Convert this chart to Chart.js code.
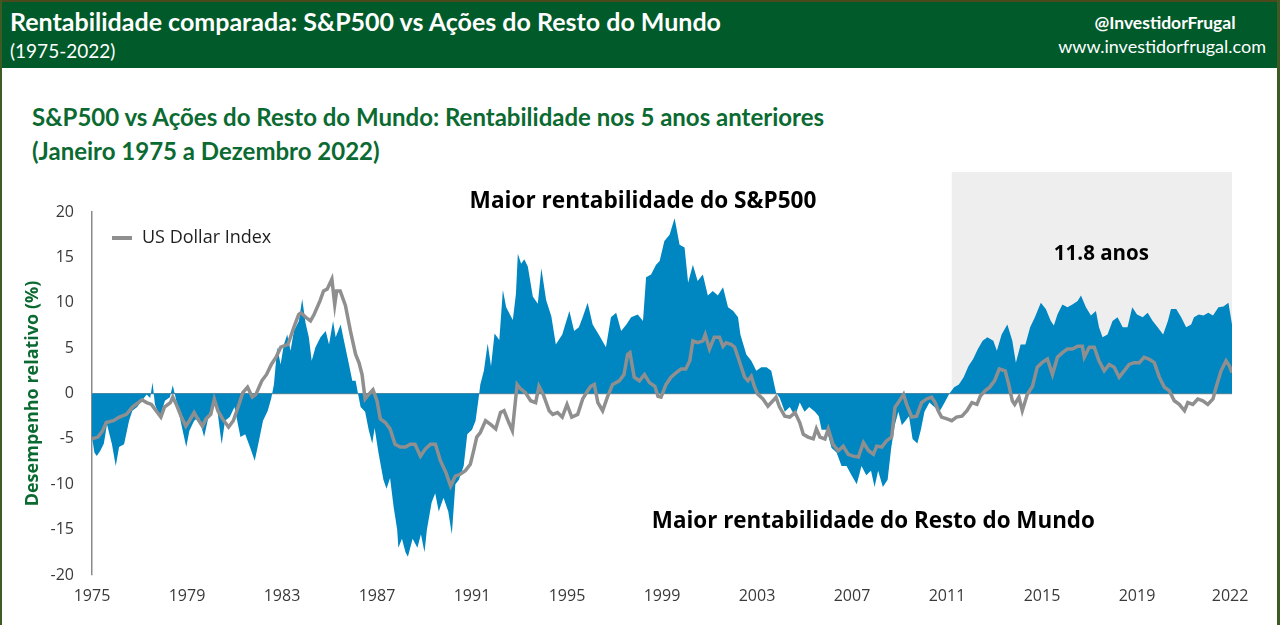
<!DOCTYPE html>
<html lang="pt">
<head>
<meta charset="utf-8">
<title>Rentabilidade comparada: S&P500 vs Ações do Resto do Mundo</title>
<script src="https://cdn.jsdelivr.net/npm/chart.js@4.4.1/dist/chart.umd.min.js"></script>
<style>
  html, body { margin: 0; padding: 0; background: #ffffff; }
  #page { position: relative; width: 1280px; height: 625px; overflow: hidden; background: #fff; }
  #hdr { position: absolute; left: 0; top: 0; width: 1280px; height: 68px; background: #005a2a; border-top: 2px solid #4b4a1c; box-sizing: border-box; }
  .w { position: absolute; color: #ffffff; white-space: nowrap; font-family: Lato, "Open Sans", sans-serif; }
  #t1 { left: 10px; top: 4px; font-size: 25px; font-weight: bold; }
  #t2 { left: 10px; top: 37px; font-size: 19px; }
  #t3 { left: 1075px; top: 10px; width: 180px; text-align: center; font-size: 17.5px; font-weight: bold; }
  #t4 { right: 14px; top: 33px; font-size: 18px; }
  .sub { position: absolute; left: 32px; color: #0b6a31; font-family: Lato, "Open Sans", sans-serif; font-weight: bold; font-size: 24px; white-space: nowrap; }
  #s1 { top: 102px; }
  #s2 { top: 136px; }
  #lb { position: absolute; left: 0; top: 0; width: 2px; height: 625px; background: #3f5a22; }
  #rb { position: absolute; right: 0; top: 0; width: 3px; height: 625px; background: #3f5a22; }
  #cv { position: absolute; left: 0; top: 160px; }
</style>
</head>
<body>
<div id="page">
  <div id="hdr">
    <div class="w" id="t1">Rentabilidade comparada: S&amp;P500 vs Ações do Resto do Mundo</div>
    <div class="w" id="t2">(1975-2022)</div>
    <div class="w" id="t3">@InvestidorFrugal</div>
    <div class="w" id="t4">www.investidorfrugal.com</div>
  </div>
  <div class="sub" id="s1">S&amp;P500 vs Ações do Resto do Mundo: Rentabilidade nos 5 anos anteriores</div>
  <div class="sub" id="s2">(Janeiro 1975 a Dezembro 2022)</div>
  <canvas id="cv" width="1280" height="465"></canvas>
  <div id="lb"></div>
  <div id="rb"></div>
</div>
<script>
// ---- Relative performance S&P500 vs rest of world (trailing 5y, %) ----
const relYears = [
  1975.00,1975.10,1975.20,1975.35,1975.50,1975.63,1975.84,1976.00,1976.14,1976.35,
  1976.56,1976.70,1976.90,1977.10,1977.30,1977.45,1977.55,1977.65,1977.86,1978.07,
  1978.28,1978.40,1978.55,1978.76,1978.97,1979.10,1979.30,1979.50,1979.72,1979.93,
  1980.14,1980.28,1980.46,1980.60,1980.80,1981.00,1981.25,1981.45,1981.65,1981.85,
  1982.00,1982.20,1982.40,1982.55,1982.66,1982.80,1982.94,1983.08,1983.22,1983.36,
  1983.50,1983.71,1983.85,1983.99,1984.13,1984.25,1984.41,1984.62,1984.84,1984.98,
  1985.15,1985.26,1985.47,1985.61,1985.82,1985.96,1986.10,1986.20,1986.31,1986.50,
  1986.65,1986.80,1986.90,1987.06,1987.27,1987.40,1987.55,1987.70,1987.85,1987.90,
  1988.05,1988.20,1988.30,1988.50,1988.70,1988.85,1989.00,1989.10,1989.30,1989.45,
  1989.60,1989.80,1990.00,1990.15,1990.30,1990.45,1990.65,1990.80,1991.00,1991.15,
  1991.28,1991.35,1991.50,1991.66,1991.80,1991.95,1992.15,1992.30,1992.44,1992.58,
  1992.72,1992.85,1992.93,1993.07,1993.20,1993.35,1993.56,1993.77,1993.92,1994.12,
  1994.34,1994.53,1994.80,1995.10,1995.30,1995.50,1995.66,1995.87,1996.08,1996.36,
  1996.64,1996.85,1997.07,1997.28,1997.50,1997.70,1997.98,1998.20,1998.33,1998.54,
  1998.75,1998.90,1999.10,1999.32,1999.53,1999.74,1999.95,2000.10,2000.30,2000.50,
  2000.72,2000.93,2001.14,2001.35,2001.57,2001.78,2002.00,2002.20,2002.30,2002.55,
  2002.76,2002.97,2003.18,2003.40,2003.60,2003.80,2003.96,2004.17,2004.38,2004.60,
  2004.80,2005.00,2005.20,2005.44,2005.60,2005.72,2005.93,2006.14,2006.35,2006.56,
  2006.77,2006.98,2007.20,2007.40,2007.60,2007.80,2007.95,2008.10,2008.30,2008.50,
  2008.65,2008.80,2008.95,2009.10,2009.25,2009.40,2009.55,2009.75,2009.90,2010.05,
  2010.26,2010.47,2010.68,2010.90,2011.10,2011.30,2011.50,2011.70,2011.90,2012.10,
  2012.30,2012.50,2012.70,2012.95,2013.10,2013.30,2013.54,2013.75,2013.90,2014.10,
  2014.30,2014.50,2014.70,2014.95,2015.16,2015.37,2015.50,2015.65,2015.86,2016.07,
  2016.28,2016.50,2016.64,2016.85,2017.06,2017.27,2017.40,2017.55,2017.76,2017.97,
  2018.18,2018.40,2018.60,2018.80,2019.00,2019.24,2019.45,2019.66,2019.87,2020.10,
  2020.30,2020.43,2020.65,2020.86,2021.07,2021.28,2021.40,2021.60,2021.80,2022.00,
  2022.20,2022.43,2022.64,2022.85,2023.00
];
const relValues = [
  -4.8,-6.5,-6.9,-6.3,-5.5,-3.4,-5.6,-8.0,-5.9,-5.6,
  -3.0,-1.9,-1.5,-0.8,-0.1,-0.5,1.2,-1.2,-2.6,-0.8,
  -0.4,0.9,-0.8,-3.4,-5.9,-4.1,-3.0,-2.6,-4.8,-2.3,
  -0.8,-1.9,-5.6,-3.0,-2.6,-1.5,-4.8,-4.5,-5.9,-7.4,
  -5.6,-3.0,-1.9,-0.5,1.0,5.1,3.2,5.4,6.5,4.7,
  6.9,8.0,10.4,7.8,6.2,3.6,5.1,6.2,6.9,5.4,
  8.0,6.2,7.6,5.8,3.2,1.4,1.4,0.0,-1.5,-2.0,
  -4.0,-5.5,-3.8,-6.5,-9.5,-10.5,-9.3,-12.5,-15.0,-17.0,
  -16.0,-17.5,-18.0,-16.0,-17.0,-15.5,-17.5,-15.0,-12.0,-11.0,
  -13.0,-11.5,-13.0,-15.5,-10.0,-9.5,-8.0,-4.5,-4.0,-3.0,
  -0.5,1.0,2.5,5.5,3.0,6.6,5.9,11.4,9.5,8.8,
  8.1,11.0,15.4,14.3,14.8,14.0,10.7,9.9,13.8,10.3,
  8.5,5.4,6.5,9.1,6.9,7.3,8.4,10.0,7.6,6.4,
  5.1,8.4,8.9,6.9,7.6,8.4,8.7,8.0,12.8,13.1,
  14.2,14.6,16.8,17.5,19.3,16.4,16.1,12.2,14.2,12.4,
  13.1,10.8,11.3,10.8,11.7,9.5,9.1,8.4,6.5,4.3,
  3.6,2.5,2.9,2.9,2.5,0.1,-0.5,-2.0,-1.5,-2.5,
  -1.0,-2.0,-1.5,-2.0,-2.5,-4.0,-4.0,-6.0,-6.5,-8.0,
  -8.0,-9.0,-10.0,-8.0,-9.0,-8.5,-10.3,-8.5,-10.3,-9.5,
  -6.0,-3.5,-2.0,-3.5,-3.0,-2.5,-5.0,-5.5,-4.0,-2.0,
  -1.0,-1.5,-2.0,-1.0,0.0,0.7,1.0,1.8,3.0,3.8,
  4.9,5.8,6.2,5.8,4.7,6.5,7.6,5.8,3.4,5.4,
  5.4,7.3,8.4,10.0,9.3,8.0,7.5,8.7,9.8,9.5,
  9.8,10.2,10.8,9.5,8.6,9.1,7.3,6.2,6.5,8.0,
  8.4,7.3,7.3,9.5,8.7,8.4,8.9,8.0,7.3,6.5,
  8.0,9.3,9.3,8.4,7.3,7.6,8.4,8.7,8.6,8.9,
  8.6,9.5,9.6,10.0,7.6
];

// ---- US Dollar Index (trailing 5y, %) ----
const usdYears = [
  1975.00,1975.25,1975.45,1975.60,1975.90,1976.15,1976.45,1976.70,1976.95,1977.10,
  1977.30,1977.50,1977.70,1977.90,1978.05,1978.30,1978.40,1978.55,1978.75,1978.95,
  1979.10,1979.30,1979.45,1979.65,1979.80,1980.00,1980.15,1980.30,1980.50,1980.75,
  1980.95,1981.15,1981.35,1981.55,1981.75,1981.90,1982.15,1982.35,1982.55,1982.75,
  1982.95,1983.25,1983.50,1983.70,1983.80,1984.00,1984.20,1984.35,1984.60,1984.75,
  1984.90,1985.10,1985.22,1985.30,1985.45,1985.67,1985.88,1986.10,1986.24,1986.37,
  1986.50,1986.65,1986.83,1987.00,1987.14,1987.35,1987.55,1987.76,1987.98,1988.20,
  1988.40,1988.60,1988.83,1989.04,1989.25,1989.46,1989.67,1989.90,1990.10,1990.30,
  1990.50,1990.72,1990.93,1991.07,1991.20,1991.35,1991.57,1991.78,1992.00,1992.20,
  1992.35,1992.55,1992.70,1992.90,1993.05,1993.25,1993.47,1993.68,1993.82,1994.00,
  1994.25,1994.40,1994.60,1994.80,1995.00,1995.20,1995.45,1995.66,1995.87,1996.00,
  1996.15,1996.30,1996.50,1996.70,1996.92,1997.20,1997.40,1997.55,1997.65,1997.83,
  1998.05,1998.26,1998.47,1998.70,1998.83,1998.96,1999.17,1999.38,1999.60,1999.80,
  2000.00,2000.17,2000.30,2000.50,2000.72,2000.82,2001.00,2001.20,2001.42,2001.57,
  2001.70,2001.92,2002.06,2002.20,2002.34,2002.48,2002.62,2002.76,2002.90,2003.04,
  2003.25,2003.46,2003.67,2003.80,2003.95,2004.17,2004.38,2004.60,2004.80,2004.95,
  2005.15,2005.37,2005.50,2005.65,2005.86,2006.00,2006.20,2006.42,2006.63,2006.84,
  2007.05,2007.27,2007.48,2007.70,2007.90,2008.04,2008.25,2008.46,2008.67,2008.81,
  2008.95,2009.17,2009.30,2009.52,2009.72,2009.93,2010.14,2010.35,2010.50,2010.63,
  2010.77,2011.00,2011.20,2011.40,2011.63,2011.84,2012.05,2012.26,2012.40,2012.60,
  2012.80,2013.00,2013.20,2013.45,2013.60,2013.75,2013.85,2014.03,2014.17,2014.38,
  2014.60,2014.80,2015.00,2015.23,2015.44,2015.65,2015.86,2016.07,2016.28,2016.50,
  2016.70,2016.78,2016.99,2017.20,2017.40,2017.62,2017.83,2018.04,2018.25,2018.46,
  2018.67,2018.88,2019.10,2019.30,2019.50,2019.73,2019.94,2020.15,2020.36,2020.57,
  2020.78,2021.00,2021.14,2021.35,2021.56,2021.77,2021.98,2022.20,2022.33,2022.54,
  2022.75,2022.90,2023.00
];
const usdValues = [
  -5.0,-4.8,-4.1,-3.2,-3.0,-2.6,-2.3,-1.5,-1.0,-0.7,
  -1.0,-1.2,-1.9,-2.6,-1.5,-1.0,-0.4,-1.2,-2.5,-3.6,
  -3.0,-2.1,-2.8,-3.6,-2.8,-2.3,-0.6,-1.9,-2.8,-3.7,
  -3.0,-1.5,0.1,0.7,-0.4,-0.1,1.4,2.1,3.2,4.0,
  5.1,5.4,7.3,8.7,8.9,8.4,8.0,8.7,10.2,11.3,
  11.5,12.6,9.8,11.3,11.3,9.7,6.9,4.3,3.4,2.1,
  -0.6,-0.1,0.4,-0.8,-2.8,-3.2,-3.9,-5.6,-5.9,-5.9,
  -5.6,-5.6,-6.9,-6.1,-5.6,-5.6,-7.4,-8.7,-10.2,-9.1,
  -8.9,-8.5,-7.8,-6.3,-4.8,-4.3,-3.0,-3.4,-3.9,-2.1,
  -1.9,-3.2,-4.1,1.0,0.5,0.1,-0.8,-1.0,0.8,-0.1,
  -1.9,-2.3,-2.1,-2.6,-1.2,-2.6,-2.3,-0.6,0.3,0.8,
  1.0,-1.0,-1.9,-0.4,1.0,1.4,2.1,4.3,4.5,1.8,
  1.4,2.1,1.2,0.8,-0.3,-0.4,1.0,1.8,2.3,2.7,
  2.7,3.6,5.8,5.6,5.8,6.5,4.9,6.2,6.2,5.2,
  5.6,5.4,5.1,4.0,2.9,1.8,1.4,1.9,0.7,-0.1,
  -0.6,-1.4,-0.8,-0.4,-1.5,-2.5,-2.6,-2.1,-3.2,-4.5,
  -4.8,-5.0,-3.9,-4.8,-5.0,-3.9,-5.6,-6.3,-5.8,-6.7,
  -6.9,-7.0,-5.4,-6.3,-6.7,-5.8,-5.9,-5.2,-4.8,-1.5,
  -1.0,-0.1,-1.2,-2.6,-2.5,-1.0,-0.6,-0.4,-1.0,-1.9,
  -2.6,-2.8,-3.0,-2.6,-2.5,-1.9,-1.0,-1.2,-0.3,0.3,
  0.7,1.4,2.7,2.5,1.0,-0.8,-1.2,-0.4,-1.9,-0.1,
  0.8,2.9,3.4,3.8,2.1,4.0,4.5,4.9,4.9,5.2,
  5.2,4.0,5.1,5.1,3.6,2.5,3.2,2.9,1.8,2.5,
  3.2,3.4,3.4,4.0,3.8,3.4,1.8,0.7,0.3,-0.8,
  -1.2,-1.9,-1.0,-1.2,-0.6,-0.8,-1.2,-0.6,0.7,2.5,
  3.6,3.0,2.3
];

// ---- Axis ticks ----
const xTickValues = [1975, 1979, 1983, 1987, 1991, 1995, 1999, 2003, 2007, 2011, 2015, 2019, 2022.92];
const xTickLabels = ['1975', '1979', '1983', '1987', '1991', '1995', '1999', '2003', '2007', '2011', '2015', '2019', '2022'];
const yTickValues = [-20, -15, -10, -5, 0, 5, 10, 15, 20];

// ---- Highlighted period (S&P500 outperforming since 2011) ----
const shadeFrom = 2011.2;
const shadeTo = 2023.0;
const shadeTop = 24.4;

// ---- Annotation texts (placed in data coordinates) ----
const noteTexts = ['Maior rentabilidade do S&P500', '11.8 anos', 'Maior rentabilidade do Resto do Mundo'];
const noteYears = [1998.2, 2017.5, 2007.9];
const noteValues = [21.2, 15.3, -14.1];
const noteSizes = [22.6, 20.5, 22.4];

const toPoints = (xs, ys) => xs.map((x, i) => ({ x: x, y: ys[i] }));

const FONT = '"Open Sans", "Noto Sans", sans-serif';

const decorPlugin = {
  id: 'decor',
  beforeDraw(chart) {
    const { ctx, scales } = chart;
    const x0 = scales.x.getPixelForValue(shadeFrom);
    const x1 = scales.x.getPixelForValue(shadeTo);
    const y0 = scales.y.getPixelForValue(shadeTop);
    const y1 = scales.y.getPixelForValue(0);
    ctx.save();
    ctx.fillStyle = '#eeeeee';
    ctx.fillRect(x0, y0, x1 - x0, y1 - y0);
    ctx.restore();
  },
  afterDatasetsDraw(chart) {
    const { ctx, scales, chartArea } = chart;
    ctx.save();
    ctx.fillStyle = '#000000';
    ctx.textAlign = 'center';
    ctx.textBaseline = 'middle';
    noteTexts.forEach((t, i) => {
      ctx.font = 'bold ' + noteSizes[i] + 'px ' + FONT;
      ctx.fillText(t, scales.x.getPixelForValue(noteYears[i]), scales.y.getPixelForValue(noteValues[i]));
    });
    // legend
    const ds = chart.data.datasets[0];
    const lx = chartArea.left + 20, ly = chartArea.top + 26;
    ctx.strokeStyle = ds.borderColor;
    ctx.lineWidth = 4;
    ctx.beginPath();
    ctx.moveTo(lx, ly);
    ctx.lineTo(lx + 20, ly);
    ctx.stroke();
    ctx.fillStyle = '#1f1f1f';
    ctx.textAlign = 'left';
    ctx.font = '18px ' + FONT;
    ctx.fillText(ds.label, lx + 30, ly);
    ctx.restore();
  }
};

new Chart(document.getElementById('cv'), {
  type: 'line',
  data: {
    datasets: [
      {
        label: 'US Dollar Index',
        data: toPoints(usdYears, usdValues),
        borderColor: '#8f8f8f',
        borderWidth: 3.5,
        pointRadius: 0,
        fill: false,
        tension: 0,
        order: 0
      },
      {
        label: 'S&P500 vs Resto do Mundo',
        data: toPoints(relYears, relValues),
        borderColor: 'rgba(0,0,0,0)',
        borderWidth: 0,
        backgroundColor: '#0086c0',
        pointRadius: 0,
        fill: 'origin',
        tension: 0,
        order: 1
      }
    ]
  },
  options: {
    responsive: false,
    animation: false,
    layout: { padding: { top: 52, right: 48, left: 0, bottom: 0 } },
    plugins: {
      legend: { display: false },
      tooltip: { enabled: false },
      title: { display: false }
    },
    scales: {
      x: {
        type: 'linear',
        min: 1975,
        max: 2023,
        afterBuildTicks: (s) => { s.ticks = xTickValues.map(v => ({ value: v })); },
        afterFit: (s) => { s.height = 50; },
        ticks: {
          autoSkip: false,
          maxRotation: 0,
          padding: 12,
          color: '#3a3a3a',
          font: { family: FONT, size: 16 },
          callback: (v, i) => xTickLabels[i]
        },
        grid: { display: false, drawTicks: false },
        border: { display: false }
      },
      y: {
        min: -20,
        max: 20,
        afterBuildTicks: (s) => { s.ticks = yTickValues.map(v => ({ value: v })); },
        afterFit: (s) => { s.width = 92; },
        ticks: {
          padding: 18,
          color: '#3a3a3a',
          font: { family: FONT, size: 16 },
          callback: (v) => String(v)
        },
        grid: {
          drawTicks: false,
          lineWidth: 1.2,
          color: (c) => (c.tick && c.tick.value === 0 ? '#8a8a8a' : 'rgba(0,0,0,0)')
        },
        border: { display: true, color: '#8a8a8a', width: 1.5 },
        title: {
          display: true,
          text: 'Desempenho relativo (%)',
          color: '#0b6a31',
          font: { family: FONT, size: 18, weight: 'bold' },
          padding: { top: 22, bottom: 0 }
        }
      }
    }
  },
  plugins: [decorPlugin]
});
</script>
</body>
</html>
